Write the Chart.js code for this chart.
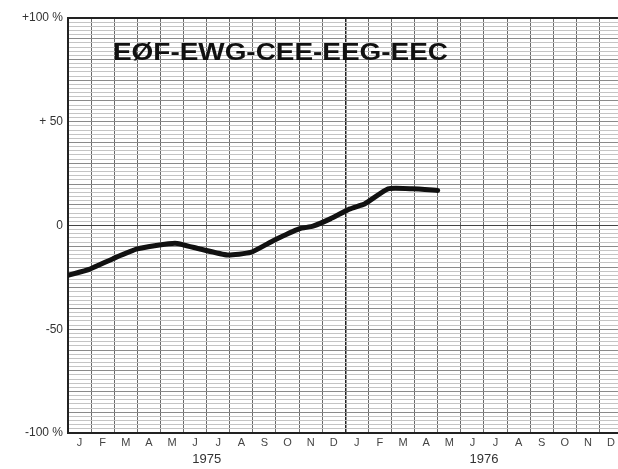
<!DOCTYPE html>
<html>
<head>
<meta charset="utf-8">
<script src="https://cdn.jsdelivr.net/npm/chart.js@4.4.0/dist/chart.umd.min.js"></script>
<style>
  html, body { margin: 0; padding: 0; background: #fff; }
</style>
</head>
<body>
<canvas id="eecChart" width="618" height="469"></canvas>
<script>
const monthLabels = ['J','F','M','A','M','J','J','A','S','O','N','D','J','F','M','A','M','J','J','A','S','O','N','D'];
const yearLabels = ['1975', '1976'];
const yTickValues = [100, 50, 0, -50, -100];
const yTickLabels = ['+100 %', '+ 50', '0', '-50', '-100 %'];

// position in months from Jan 1975, and % change
const monthPos = [0, 0.95, 1.95, 3.0, 4.63, 5.7, 6.9, 7.9, 8.9, 10.0, 10.6, 11.35, 12.2, 12.85, 13.85, 14.9, 16.0];
const changePct = [-24, -21, -16, -11.3, -8.5, -11.3, -14.2, -13, -7.2, -1.6, -0.3, 3.2, 8, 10.5, 17.7, 17.7, 16.9];

const titleText = 'EØF-EWG-CEE-EEG-EEC';
const xMax = 23.8;

const titlePlugin = {
  id: 'bigTitle',
  afterDraw(chart) {
    const ctx = chart.ctx;
    const area = chart.chartArea;
    ctx.save();
    ctx.font = 'bold 24px "Liberation Sans", Arial, sans-serif';
    ctx.fillStyle = '#111';
    ctx.textBaseline = 'alphabetic';
    const w = ctx.measureText(titleText).width;
    ctx.translate(area.left + 45, area.top + 42);
    ctx.scale(335 / w, 1);
    ctx.fillText(titleText, 0, 0);
    ctx.restore();
  }
};

function renderChart() {
  const ctx = document.getElementById('eecChart').getContext('2d');
  new Chart(ctx, {
    type: 'line',
    data: {
      datasets: [{
        data: changePct.map((v, i) => ({ x: monthPos[i], y: v })),
        borderColor: '#111',
        borderWidth: 5,
        pointRadius: 0,
        tension: 0.15,
        fill: false,
        borderCapStyle: 'round',
        borderJoinStyle: 'round'
      }]
    },
    options: {
      responsive: false,
      animation: false,
      layout: { padding: { top: 18, left: 0, right: 0, bottom: 0 } },
      plugins: { legend: { display: false }, tooltip: { enabled: false } },
      scales: {
        x: {
          type: 'linear',
          position: 'bottom',
          weight: 0,
          min: 0,
          max: xMax,
          afterBuildTicks: s => { s.ticks = monthLabels.map((m, i) => ({ value: i })); },
          afterFit: s => { s.height = 0; },
          ticks: { display: false },
          grid: {
            drawTicks: false,
            color: c => c.tick && c.tick.value === 12 ? '#222' : '#6a6a6a',
            lineWidth: c => c.tick && c.tick.value === 12 ? 1.5 : 1
          },
          border: { display: true, color: '#222', width: 2 }
        },
        x2: {
          type: 'linear',
          position: 'bottom',
          weight: 1,
          min: 0,
          max: xMax,
          afterBuildTicks: s => { s.ticks = monthLabels.map((m, i) => ({ value: i + 0.5 })); },
          afterFit: s => { s.height = 18; },
          grid: { display: false, drawTicks: false },
          border: { display: false },
          ticks: {
            autoSkip: false,
            maxRotation: 0,
            padding: 3,
            color: '#444',
            font: { family: '"Liberation Sans", Arial, sans-serif', size: 11 },
            callback: (v, i) => monthLabels[i]
          }
        },
        x3: {
          type: 'linear',
          position: 'bottom',
          weight: 2,
          min: 0,
          max: xMax,
          afterBuildTicks: s => { s.ticks = yearLabels.map((y, i) => ({ value: i * 12 + 6 })); },
          afterFit: s => { s.height = 18; },
          grid: { display: false, drawTicks: false },
          border: { display: false },
          ticks: {
            autoSkip: false,
            maxRotation: 0,
            padding: 1,
            color: '#333',
            font: { family: '"Liberation Sans", Arial, sans-serif', size: 13 },
            callback: (v, i) => yearLabels[i]
          }
        },
        y: {
          min: -100,
          max: 100,
          afterBuildTicks: s => {
            const t = [];
            for (let v = -100; v <= 100; v += 2) t.push({ value: v });
            s.ticks = t;
          },
          afterFit: s => { s.width = 68; },
          ticks: {
            autoSkip: false,
            padding: 5,
            color: '#333',
            font: { family: '"Liberation Sans", Arial, sans-serif', size: 12 },
            callback: v => {
              const k = yTickValues.indexOf(v);
              return k >= 0 ? yTickLabels[k] : '';
            }
          },
          grid: {
            drawTicks: false,
            color: c => {
              const v = c.tick ? c.tick.value : null;
              if (v === 100) return '#222';
              if (v === 0) return '#444';
              if (v % 10 === 0) return '#8a8a8a';
              return '#c4c4c4';
            },
            lineWidth: c => (c.tick && c.tick.value === 100) ? 2 : 1
          },
          border: { display: true, color: '#222', width: 2 }
        }
      }
    },
    plugins: [titlePlugin]
  });
}

renderChart();
</script>
</body>
</html>
